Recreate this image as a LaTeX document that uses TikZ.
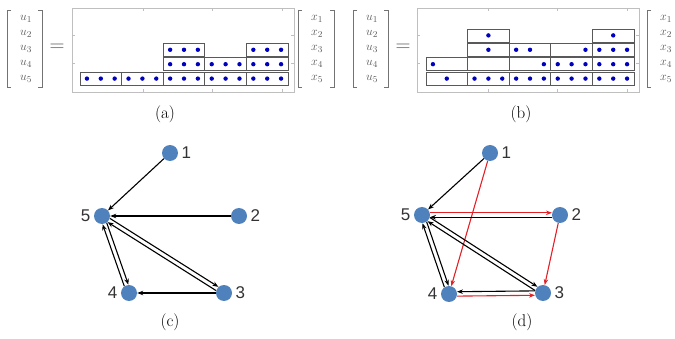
\documentclass[tikz,border=0pt]{standalone}
\usepackage{fontspec}
\usepackage{xcolor}
\usetikzlibrary{arrows.meta,calc}
\newfontfamily\numfont{Liberation Sans}
\definecolor{nodeblue}{RGB}{79,129,189}
\definecolor{edgered}{RGB}{226,32,38}

\begin{document}
\begin{tikzpicture}[x=1pt,y=-1pt,
  vert/.style={circle,fill=nodeblue,minimum size=16pt,inner sep=0pt,label distance=1pt},
  num/.style={font=\fontsize{17}{17}\numfont,text=black!80},
  arr/.style={-{Stealth[length=6pt,width=4.5pt]},line width=1.1pt},
  twin/.style={shorten <=8pt,shorten >=8pt},
  cell/.style={draw=black!65,line width=0.7pt},
  bead/.style={fill=blue!75!black},
  frame/.style={draw=black!25,line width=0.5pt},
  brack/.style={draw=black!55,line width=0.7pt},
  ent/.style={text=black!65,font=\fontsize{13}{13}\selectfont},
  caption/.style={font=\fontsize{17}{17}\selectfont}]
  \useasboundingbox (0,0) rectangle (675,339);
  \clip (0,0) rectangle (675,339);

  % (a) and (b): frames, brackets, entries
  \foreach \p/\ux/\fx/\xx in {a/7/72/298,b/353/417/647} {
    \draw[brack] (\ux+4,10) -- (\ux,10) -- (\ux,87) -- (\ux+4,87);
    \draw[brack] (\ux+31,10) -- (\ux+35,10) -- (\ux+35,87) -- (\ux+31,87);
    \draw[brack] (\xx+4,10) -- (\xx,10) -- (\xx,87) -- (\xx+4,87);
    \draw[brack] (\xx+32,10) -- (\xx+36,10) -- (\xx+36,87) -- (\xx+32,87);
    \foreach \i in {1,...,5} {
      \node[ent] (u\p\i) at (\ux+19,{19+15*(\i-1)}) {$u_{\i}$};
      \node[ent] (x\p\i) at (\xx+19,{19+15*(\i-1)}) {$x_{\i}$};
    }
    \node[text=black!65,font=\fontsize{20}{20}\selectfont] (eq\p) at (\ux+50,48) {$=$};
    \draw[frame] (\fx,8) rectangle (\fx+222,92);
    \foreach \t in {71,140,210} {
      \draw[frame] (\fx+\t,8) -- ++(0,3);
      \draw[frame] (\fx+\t,92) -- ++(0,-3);
    }
    \foreach \t in {35,63} {
      \draw[frame] (\fx,\t) -- ++(3,0);
      \draw[frame] (\fx+222,\t) -- ++(-3,0);
    }
  }
  \foreach \c/\r/\d in {1/5/{1,2,3},2/5/{1,2,3},3/3/{1,2,3},3/4/{1,2,3},3/5/{1,2,3},
                        4/4/{1,2,3},4/5/{1,2,3},5/3/{1,2,3},5/4/{1,2,3},5/5/{1,2,3}} {
    \draw[cell] ({80+41.6*(\c-1)},{14.5+14.4*(\r-1)}) rectangle ++(41.6,13);
    \foreach \s in \d
      \fill[bead] ({80+41.6*(\c-1)+13.87*(\s-1)+6.93},{21+14.4*(\r-1)}) circle (2.2);
  }
  \draw[cell] ({426+41.6},{14.5+14.4*3}) rectangle ++(41.6,13);
  \foreach \c/\r/\d in {1/4/{1},1/5/{2},2/2/{2},2/3/{2},2/5/{1,2,3},3/3/{1,2},3/4/{3},
                        3/5/{1,2,3},4/3/{3},4/4/{1,2,3},4/5/{1,2,3},5/2/{2},5/3/{1,2,3},
                        5/4/{1,2,3},5/5/{1,2,3}} {
    \draw[cell] ({426+41.6*(\c-1)},{14.5+14.4*(\r-1)}) rectangle ++(41.6,13);
    \foreach \s in \d
      \fill[bead] ({426+41.6*(\c-1)+13.87*(\s-1)+6.93},{21+14.4*(\r-1)}) circle (2.2);
  }
  \node[caption] (capa) at (165,114) {(a)};
  \node[caption] (capb) at (521,114) {(b)};

  % (c)
  \node[vert,label={[num]right:1}] (c1) at (170,153) {};
  \node[vert,label={[num]left:5}] (c5) at (102,216) {};
  \node[vert,label={[num]right:2}] (c2) at (239,216) {};
  \node[vert,label={[num]left:4}] (c4) at (129,293) {};
  \node[vert,label={[num]right:3}] (c3) at (224,293) {};
  \draw[arr] (c1) -- (c5);
  \draw[arr] (c2) -- (c5);
  \draw[arr] (c3) -- (c4);
  \foreach \a/\b in {c5/c4,c4/c5,c5/c3,c3/c5}
    \draw[arr,twin] ($(\a)!2.2pt!90:(\b)$) -- ($(\b)!2.2pt!-90:(\a)$);
  \node[caption] (capc) at (170,322) {(c)};

  % (d)
  \node[vert,label={[num]right:1}] (d1) at (490,153) {};
  \node[vert,label={[num]left:5}] (d5) at (422,215) {};
  \node[vert,label={[num]right:2}] (d2) at (560,215) {};
  \node[vert,label={[num]left:4}] (d4) at (449,294) {};
  \node[vert,label={[num]right:3}] (d3) at (543,293) {};
  \draw[arr] (d1) -- (d5);
  \draw[arr,edgered] (d1) -- (d4);
  \draw[arr,edgered] (d2) -- (d3);
  \foreach \a/\b/\o/\col in {d5/d4/2.2/black,d4/d5/2.2/black,d5/d3/2.2/black,d3/d5/2.2/black,
                             d5/d2/2.2/edgered,d2/d5/2.2/black,d3/d4/-2.2/black,d4/d3/-2.2/edgered}
    \draw[arr,twin,\col] ($(\a)!\o pt!90:(\b)$) -- ($(\b)!\o pt!-90:(\a)$);
  \node[caption] (capd) at (522,322) {(d)};
\end{tikzpicture}
\end{document}
